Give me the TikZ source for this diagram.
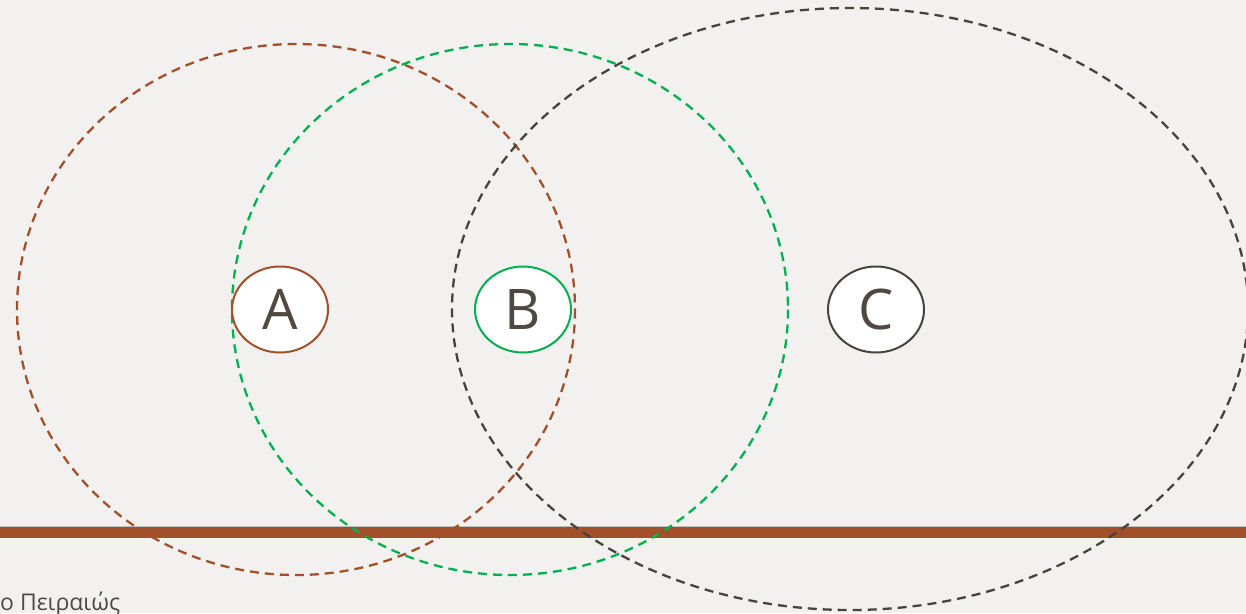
\documentclass[tikz,border=0pt]{standalone}
\usepackage{fontspec}
\setmainfont{Open Sans}
\usetikzlibrary{shapes.geometric}
\definecolor{bg}{HTML}{F2F1EF}
\definecolor{rust}{HTML}{A3502A}
\definecolor{grn}{HTML}{00B050}
\definecolor{dgray}{HTML}{48433D}
\definecolor{txt}{HTML}{4F4942}
\tikzset{
  bigring/.style={line width=2.3pt, dash pattern=on 9pt off 6pt},
  smallring/.style={ellipse, draw, line width=2pt, fill=white, minimum width=96pt, minimum height=86pt, inner sep=0pt, font=\fontsize{56}{56}\selectfont, text=txt},
}
\begin{document}
\begin{tikzpicture}[x=1pt,y=-1pt]
\useasboundingbox (0,0) rectangle (1246,613);
\fill[bg] (0,0) rectangle (1246,613);
% bar
\fill[black!25] (0,525.5) rectangle (1246,527.5);
\fill[rust] (0,527) rectangle (1246,538);
% big dashed rings
\draw[bigring, rust] (296,309.5) ellipse [x radius=279, y radius=265.5];
\draw[bigring, grn] (510,309.5) ellipse [x radius=278, y radius=265.5];
\draw[bigring, dgray] (850,309) ellipse [x radius=398, y radius=301];
% small nodes
\node[smallring, draw=rust] (A) at (280,309.5) {A};
\node[smallring, draw=grn] (B) at (523,309.5) {B};
\node[smallring, draw=dgray] (C) at (876,309.5) {C};
% footer text
\node[anchor=base west, inner sep=0pt, text=txt, font=\fontsize{23}{23}\selectfont] (foot) at (0,610) {ο Πειραιώς};
\end{tikzpicture}
\end{document}
